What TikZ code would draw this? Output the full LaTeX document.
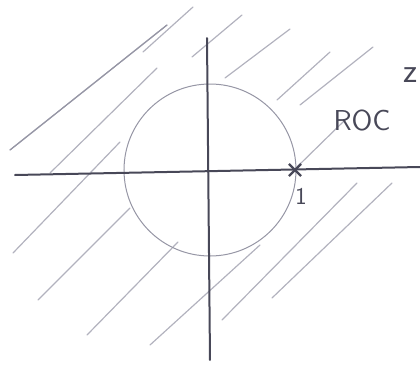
\documentclass[tikz,border=0pt]{standalone}
\usetikzlibrary{shapes.misc,positioning}

\definecolor{pencil}{RGB}{72,72,88}
\definecolor{lightpencil}{RGB}{150,150,165}
\definecolor{hatchgray}{RGB}{178,178,190}

\begin{document}
\begin{tikzpicture}[
  x=0.5pt, y=-0.5pt,
  axis/.style={draw=pencil, line width=1pt, line cap=round},
  unitcirc/.style={draw=lightpencil, line width=0.5pt},
  hatch/.style={draw=hatchgray, line width=0.6pt, line cap=round},
  label/.style={text=pencil, inner sep=0pt, font=\sffamily},
  polemark/.style={cross out, draw=pencil, line width=1.1pt, minimum size=5pt, inner sep=0pt}
]
\useasboundingbox (0,0) rectangle (420,365);

% hatching of the region outside the circle
\foreach \ax/\ay/\bx/\by in {10/150/167/25, 143/52/193/7, 50/173/157/68,
    13/253/120/142, 38/300/130/208, 87/335/178/242, 150/345/260/245,
    222/320/357/183, 272/298/392/183, 192/57/242/15, 225/78/290/29,
    277/100/330/52, 300/105/373/47, 297/167/345/120}
  \draw[hatch] (\ax,\ay) -- (\bx,\by);
\draw[hatch, draw=lightpencil] (10,150) -- (167,25);

% unit circle
\draw[unitcirc] (210,170) circle[radius=86];

% axes
\coordinate (xl) at (15,175);
\coordinate (xr) at (420,167);
\coordinate (yt) at (207,38);
\coordinate (yb) at (210,360);
\draw[axis] (xl) -- (xr);
\draw[axis] (yt) -- (yb);

% pole and labels
\node[polemark] (pole) at (295,170) {};
\node[label, font=\sffamily\large, below=6pt of pole, xshift=3pt] (one) {1};
\node[label, font=\sffamily\Large] (roc) at (362,121) {ROC};
\node[label, font=\sffamily\LARGE] (zlab) at (411,75) {z};
\end{tikzpicture}
\end{document}
